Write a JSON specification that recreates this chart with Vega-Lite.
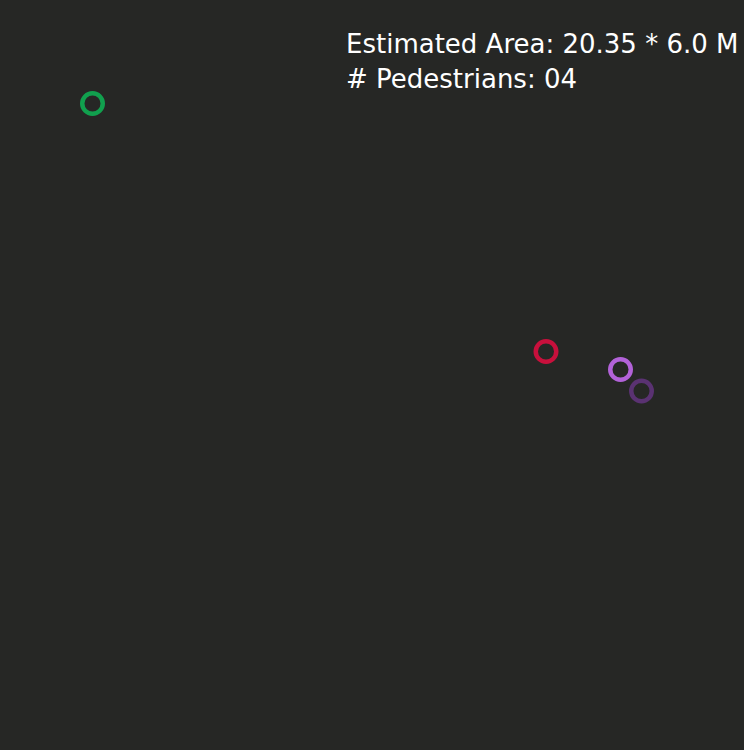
{
  "$schema": "https://vega.github.io/schema/vega-lite/v6.json",
  "width": 744,
  "height": 750,
  "padding": 0,
  "autosize": {"type": "none"},
  "background": "#262725",
  "config": {"view": {"stroke": null, "fill": "#262725"}},
  "title": {
    "text": ["Estimated Area: 20.35 * 6.0 M", "# Pedestrians: 04"],
    "orient": "top",
    "anchor": "start",
    "align": "left",
    "dx": 346,
    "offset": -93,
    "fontSize": 26,
    "lineHeight": 35,
    "font": "DejaVu Sans",
    "fontWeight": "normal",
    "color": "#ffffff"
  },
  "data": {
    "values": [
      {"id": "p1", "x": 92.5, "y": 103.5},
      {"id": "p2", "x": 546, "y": 351.5},
      {"id": "p3", "x": 620.5, "y": 369.5},
      {"id": "p4", "x": 641.5, "y": 391}
    ]
  },
  "mark": {"type": "point", "shape": "circle", "filled": false, "strokeWidth": 4.5, "size": 420, "opacity": 1},
  "encoding": {
    "x": {"field": "x", "type": "quantitative", "scale": {"domain": [0, 744]}, "axis": null},
    "y": {"field": "y", "type": "quantitative", "scale": {"domain": [750, 0]}, "axis": null},
    "color": {
      "field": "id",
      "type": "nominal",
      "scale": {"domain": ["p1", "p2", "p3", "p4"], "range": ["#11a04e", "#c8103c", "#b262d8", "#5a3272"]},
      "legend": null
    }
  }
}
